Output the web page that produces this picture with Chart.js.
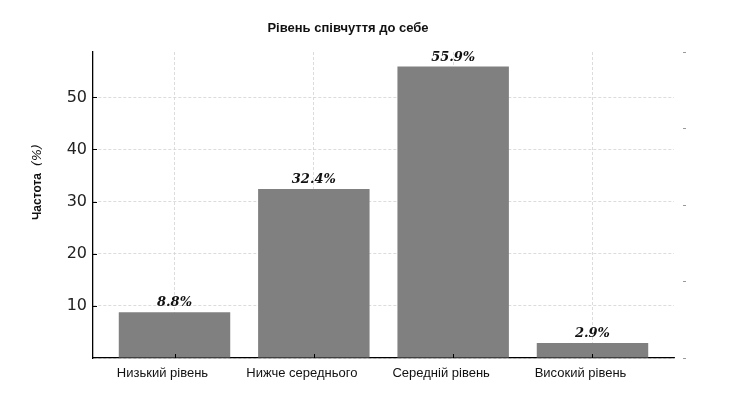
<!DOCTYPE html>
<html>
<head>
<meta charset="utf-8">
<script src="https://cdn.jsdelivr.net/npm/chart.js@4.4.1/dist/chart.umd.min.js"></script>
<style>
  html, body { margin: 0; padding: 0; background: #fff; }
  #wrap { width: 739px; height: 416px; }
</style>
</head>
<body>
<div id="wrap"><canvas id="myChart" width="739" height="416"></canvas></div>
<script>
// дані з графіка
const chartTitle = "Рівень співчуття до себе";
const categories = ["Низький рівень", "Нижче середнього", "Середній рівень", "Високий рівень"];
const percents = [8.8, 32.4, 55.9, 2.9];
const yTicks = [10, 20, 30, 40, 50];

const gridColor = "#d3d3d3";

// підпис над стовпцями
const barLabels = {
  id: "barLabels",
  afterDatasetsDraw(chart) {
    const ctx = chart.ctx;
    const meta = chart.getDatasetMeta(0);
    ctx.save();
    ctx.font = "bold italic 13px 'DejaVu Serif'";
    ctx.fillStyle = "#111";
    ctx.textAlign = "center";
    ctx.textBaseline = "alphabetic";
    meta.data.forEach((bar, i) => {
      ctx.fillText(percents[i].toFixed(1) + "%", bar.x, bar.y - 6);
    });
    ctx.restore();
  },
};

// короткі внутрішні засічки на осях, як у matplotlib
const innerTicks = {
  id: "innerTicks",
  afterDraw(chart) {
    const ctx = chart.ctx;
    const { x, y } = chart.scales;
    const area = chart.chartArea;
    ctx.save();
    ctx.strokeStyle = "#000";
    ctx.lineWidth = 1;
    ctx.beginPath();
    x.ticks.forEach((t) => {
      const px = Math.round(x.getPixelForValue(t.value)) + 0.5;
      ctx.moveTo(px, area.bottom);
      ctx.lineTo(px, area.bottom - 4);
    });
    y.ticks.forEach((t) => {
      if (t.value === 0) return;
      const py = Math.round(y.getPixelForValue(t.value)) + 0.5;
      ctx.moveTo(area.left, py);
      ctx.lineTo(area.left + 4, py);
    });
    ctx.stroke();
    ctx.restore();
  },
};

// заголовок і підпис осі Y
const titles = {
  id: "titles",
  afterDraw(chart) {
    const ctx = chart.ctx;
    ctx.save();
    ctx.fillStyle = "#111";
    ctx.font = "bold 13px 'Liberation Sans'";
    ctx.textAlign = "center";
    ctx.textBaseline = "middle";
    ctx.fillText(chartTitle, 348, 28);

    ctx.translate(38, 182);
    ctx.rotate(-Math.PI / 2);
    const a = "Частота  ";
    const b = "(%)";
    ctx.font = "bold 12px 'Liberation Sans'";
    const wa = ctx.measureText(a).width;
    ctx.font = "italic 13px 'DejaVu Sans'";
    const wb = ctx.measureText(b).width;
    const start = -(wa + wb) / 2;
    ctx.textAlign = "left";
    ctx.font = "bold 12px 'Liberation Sans'";
    ctx.fillText(a, start, 0);
    ctx.font = "italic 13px 'DejaVu Sans'";
    ctx.fillText(b, start + wa, 0);
    ctx.restore();
  },
};

const config = {
  type: "bar",
  data: {
    datasets: [
      {
        data: percents.map((v, i) => ({ x: i, y: v })),
        backgroundColor: "#808080",
        borderWidth: 0,
        barPercentage: 0.8,
        categoryPercentage: 1.0,
      },
    ],
  },
  options: {
    responsive: false,
    animation: false,
    layout: { padding: { top: 52, left: 0, right: 53, bottom: 0 } },
    plugins: {
      legend: { display: false },
      title: { display: false },
      tooltip: { enabled: false },
    },
    scales: {
      x: {
        type: "linear",
        offset: false,
        min: -0.585,
        max: 3.585,
        afterBuildTicks: (scale) => {
          scale.ticks = categories.map((c, i) => ({ value: i }));
        },
        afterFit: (scale) => {
          scale.height = 58;
        },
        ticks: {
          callback: (v) => categories[v],
          font: { family: "'Liberation Sans'", size: 13 },
          color: "#111",
          padding: 8,
          labelOffset: -12,
          maxRotation: 0,
          autoSkip: false,
        },
        grid: {
          offset: false,
          color: gridColor,
          lineWidth: 0.8,
          drawTicks: false,
        },
        border: { display: true, color: "#000", width: 1.3, dash: [3, 2] },
      },
      y: {
        position: "left",
        min: 0,
        max: 58.7,
        afterBuildTicks: (scale) => {
          scale.ticks = [0].concat(yTicks).map((v) => ({ value: v }));
        },
        afterFit: (scale) => {
          scale.width = 93;
        },
        ticks: {
          callback: (v) => (v === 0 ? "" : v),
          font: { family: "'DejaVu Sans'", size: 16 },
          color: "#222",
          padding: 6,
        },
        grid: {
          color: gridColor,
          lineWidth: 0.8,
          drawTicks: false,
        },
        border: { display: true, color: "#000", width: 1.3, dash: [3, 2] },
      },
      y2: {
        position: "right",
        min: 0,
        max: 4,
        afterFit: (scale) => {
          scale.width = 12;
        },
        ticks: { stepSize: 1, display: false },
        grid: {
          drawOnChartArea: false,
          drawTicks: true,
          tickLength: 12,
          tickColor: "#999",
          tickWidth: 1,
          tickBorderDash: [3, 9],
          tickBorderDashOffset: 3,
        },
        border: { display: false },
      },
    },
  },
  plugins: [barLabels, innerTicks, titles],
};

const ctx = document.getElementById("myChart").getContext("2d");
new Chart(ctx, config);
</script>
</body>
</html>
